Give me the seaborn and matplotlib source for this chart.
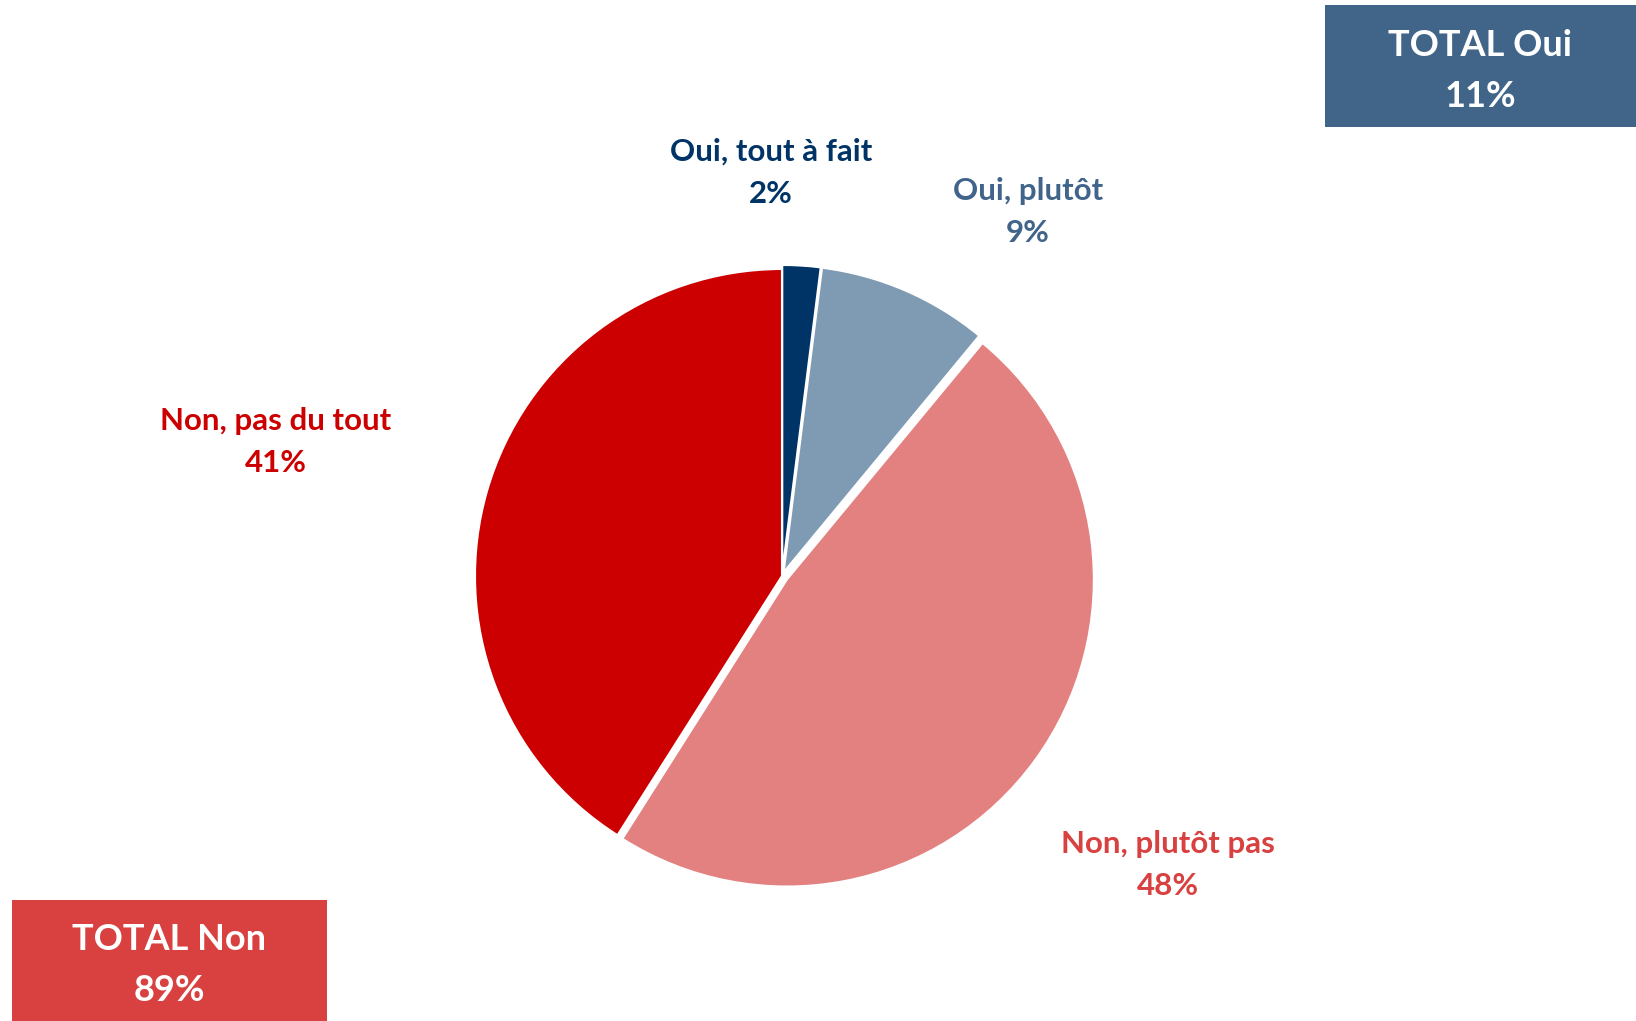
import matplotlib
matplotlib.use("Agg")
import matplotlib.pyplot as plt
import seaborn as sns
from matplotlib.patches import Rectangle

categories = ["Oui, tout à fait", "Oui, plutôt", "Non, plutôt pas", "Non, pas du tout"]
values = [2, 9, 48, 41]
slice_colors = ["#003366", "#7F9AB3", "#E38080", "#CC0000"]
label_colors = ["#003366", "#41648A", "#D94040", "#CC0000"]
totals_labels = ["TOTAL Oui", "TOTAL Non"]
totals_values = [11, 89]
totals_colors = ["#416589", "#D94040"]

sns.set_theme(style="white")
plt.rcParams['font.family'] = ['Lato', 'DejaVu Sans']

W, H = 1636, 1021
fig = plt.figure(figsize=(W / 100, H / 100), dpi=100)
ax = fig.add_axes([0, 0, 1, 1])

def py(y):
    return H - y

cx, cy, r = 782, py(576), 307
# explode offsets in pixel units (axes are in pixel coordinates)
explode = [4, 4, 6, 0]
wedges, _ = ax.pie(values, colors=slice_colors, startangle=90, counterclock=False,
                   center=(cx, cy), radius=r, explode=explode,
                   wedgeprops=dict(edgecolor="white", linewidth=1.5))
ax.set_xlim(0, W)
ax.set_ylim(0, H)
ax.set_aspect("equal")
ax.axis("off")

label_pos = [(771, 152), (1028, 191), (1168, 844), (276, 421)]
for cat, v, col, (x, y) in zip(categories, values, label_colors, label_pos):
    ax.text(x, py(y), cat, ha="center", va="center", color=col,
            fontsize=22.5, fontweight="bold")
    ax.text(x, py(y + 42), f"{v}%", ha="center", va="center", color=col,
            fontsize=22.5, fontweight="bold")

boxes = [(1325, 5, 311, 122), (12, 900, 315, 121)]
for lab, v, col, (x, y, w, h) in zip(totals_labels, totals_values, totals_colors, boxes):
    ax.add_patch(Rectangle((x, py(y + h)), w, h, facecolor=col, edgecolor="none"))
    ax.text(x + w / 2, py(y + h / 2 - 21), lab, ha="center", va="center",
            color="white", fontsize=26, fontweight="bold")
    ax.text(x + w / 2, py(y + h / 2 + 30), f"{v}%", ha="center", va="center",
            color="white", fontsize=26, fontweight="bold")

fig.savefig("out.png", dpi=100, facecolor="white")
